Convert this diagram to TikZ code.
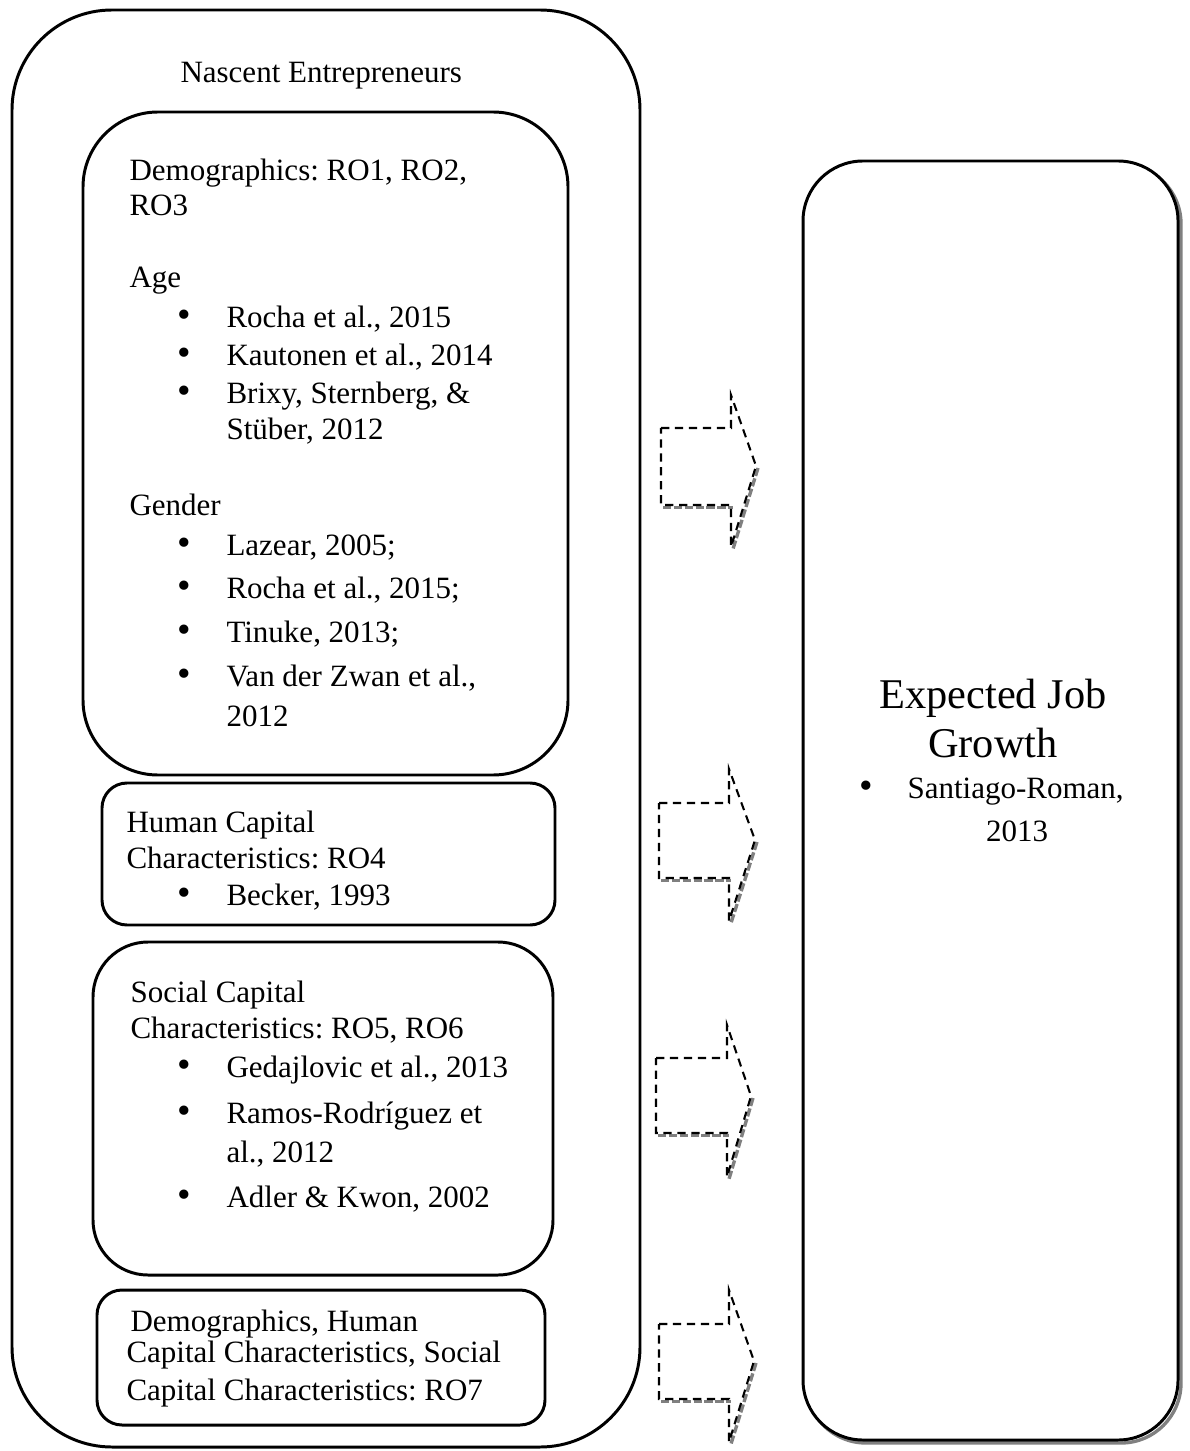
\documentclass[tikz,border=0pt]{standalone}
\usepackage{fontspec}
\setmainfont{Liberation Serif}
\frenchspacing
\newdimen\pxu \pxu=0.3871pt
\begin{document}
\begin{tikzpicture}[x=0.3871pt,y=-0.3871pt,
  boxline/.style={draw=black, line width=1.15pt},
  txt/.style={anchor=base west, inner sep=0pt, font=\fontsize{12}{14}\selectfont},
  bul/.style={anchor=base, inner sep=0pt, text height=5pt, text depth=0pt, font=\fontsize{15}{14}\selectfont},
  bigtxt/.style={anchor=base, inner sep=0pt, font=\fontsize{16.4}{19}\selectfont},
  arrowline/.style={draw=black, line width=0.8pt, dash pattern=on 3.2pt off 2.2pt},
  arrowshadow/.style={draw=black!50, line width=1.3pt, dash pattern=on 3.2pt off 1pt},
  boxshadow/.style={draw=black!50, line width=1.3pt}]
\useasboundingbox (0,0) rectangle (1189,1451);
% boxes
\draw[boxline, rounded corners=100\pxu] (12,10) rectangle (640,1447);
\draw[boxline, rounded corners=75\pxu] (83,112) rectangle (568,775);
\draw[boxline, rounded corners=25\pxu] (102,783) rectangle (555,925);
\draw[boxline, rounded corners=55\pxu] (93,942) rectangle (553,1275);
\draw[boxline, rounded corners=25\pxu] (97,1290) rectangle (545,1425);
\draw[boxshadow, rounded corners=60\pxu] (806,164) rectangle (1181,1443);
\draw[boxline, fill=white, rounded corners=60\pxu] (803,161) rectangle (1178,1440);
% arrows
\newcommand\blockarrow[6]{% xL, rt, rb, xH, tipx, tipy
  \draw[arrowshadow] (#1+2,#3+2.5) -- (#4+2,#3+2.5);
  \draw[arrowshadow] (#5+2,#6+2) -- (#4+2,#6+83);
  \draw[arrowline] (#1,#2) -- (#4,#2) -- (#4,#6-71) -- (#5,#6) -- (#4,#6+81) -- (#4,#3) -- (#1,#3) -- cycle;}
\blockarrow{661}{428}{505}{731}{756}{466}
\blockarrow{659}{803}{878}{729}{755}{840}
\blockarrow{656}{1058}{1133}{727}{751}{1096}
\blockarrow{659}{1324}{1399}{729}{754}{1361}
% texts
\newcommand\bitem[3]{\node[bul] (#1b) at (184,#2) {•};\node[txt] (#1) at (226,#2) {#3};}
\node[txt] (title) at (180,83) {Nascent Entrepreneurs};
\node[txt] (d1) at (129,181) {Demographics: RO1, RO2,};
\node[txt] (d2) at (129,216) {RO3};
\node[txt] (d3) at (129,288) {Age};
\bitem{a1}{328}{Rocha et al., 2015}
\bitem{a2}{366}{Kautonen et al., 2014}
\bitem{a3}{404}{Brixy, Sternberg, \&}
\node[txt] (a3c) at (226,440) {Stüber, 2012};
\node[txt] (d4) at (129,516) {Gender};
\bitem{g1}{555}{Lazear, 2005;}
\bitem{g2}{598}{Rocha et al., 2015;}
\bitem{g3}{642}{Tinuke, 2013;}
\bitem{g4}{686}{Van der Zwan et al.,}
\node[txt] (g4c) at (226,726) {2012};
\node[txt] (h1) at (126,832) {Human Capital};
\node[txt] (h2) at (126,868) {Characteristics: RO4};
\bitem{h3}{905}{Becker, 1993}
\node[txt] (s1) at (130,1002) {Social Capital};
\node[txt] (s2) at (130,1038) {Characteristics: RO5, RO6};
\bitem{s3}{1077}{Gedajlovic et al., 2013}
\bitem{s4}{1123}{Ramos-Rodríguez et}
\node[txt] (s4c) at (226,1162) {al., 2012};
\bitem{s5}{1207}{Adler \& Kwon, 2002}
\node[txt] (c1) at (130,1331) {Demographics, Human};
\node[txt] (c2) at (126,1362) {Capital Characteristics, Social};
\node[txt] (c3) at (126,1400) {Capital Characteristics: RO7};
\node[bigtxt] (e1) at (993,708) {Expected Job};
\node[bigtxt] (e2) at (993,757) {Growth};
\node[bul] (e3b) at (866,798) {•};
\node[txt] (e3) at (907,798) {Santiago-Roman,};
\node[bul] (e4) at (1017,841) {\fontsize{12}{14}\selectfont 2013};
\end{tikzpicture}
\end{document}
